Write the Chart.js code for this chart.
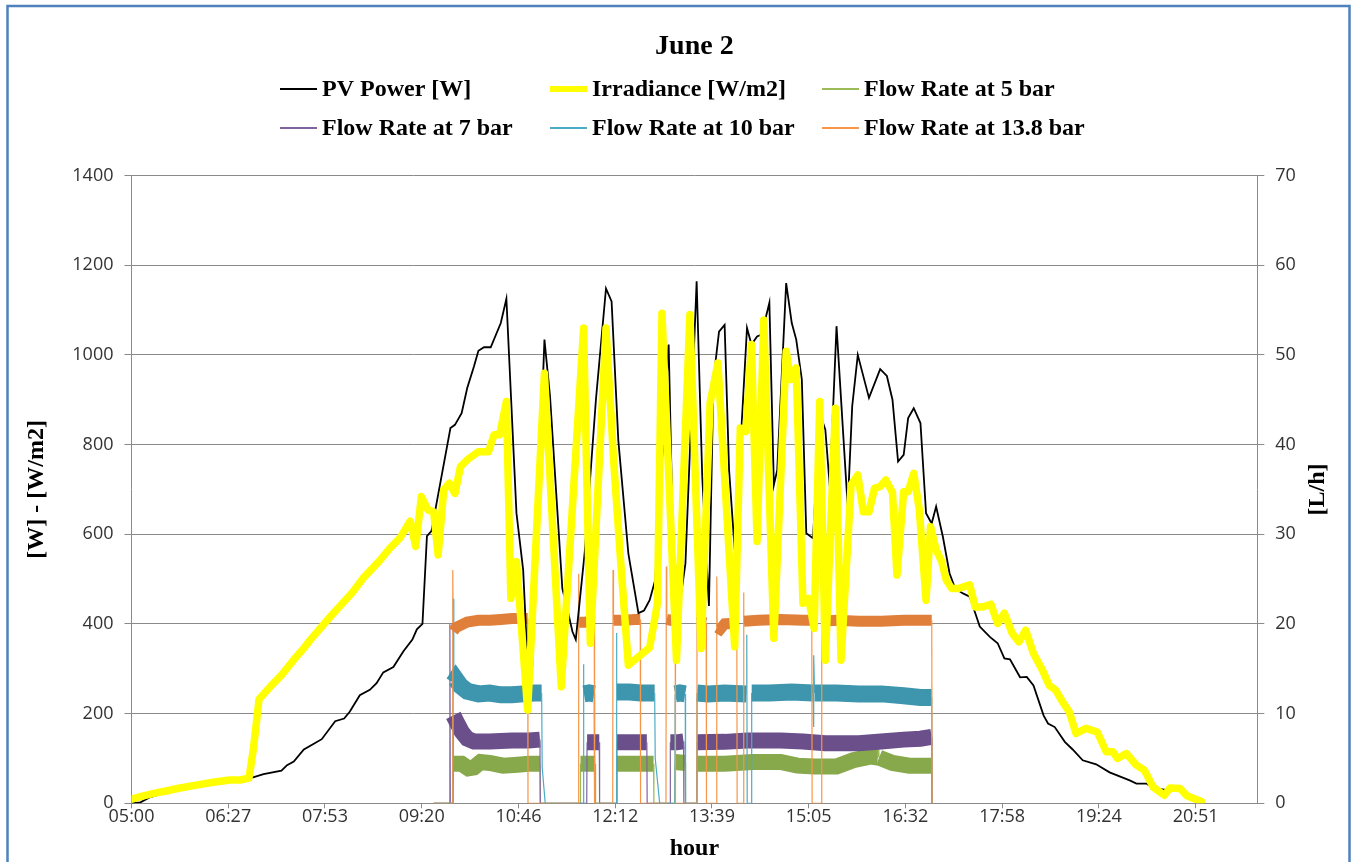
<!DOCTYPE html>
<html>
<head>
<meta charset="utf-8">
<title>June 2</title>
<script src="https://cdn.jsdelivr.net/npm/chart.js@4.4.1/dist/chart.umd.min.js"></script>
<style>
  html, body { margin: 0; padding: 0; background: #fff; }
</style>
</head>
<body>
<canvas id="chart" width="1356" height="862"></canvas>
<script>
/* ======================================================================
DATA  (x = minutes after midnight)
====================================================================== */
const tickLabels = ['05:00', '06:27', '07:53', '09:20', '10:46', '12:12',
  '13:39', '15:05', '16:32', '17:58', '19:24', '20:51'];

// PV power [W]
const pvTime = [300, 308, 317, 330, 345, 360, 375, 390, 405, 418, 434, 439, 445, 454, 461,
  470, 482, 490, 495, 504, 513, 519, 525, 534, 543, 551, 555, 560, 564, 568, 585, 589, 595,
  600, 606, 610, 615, 621, 630, 635, 644, 650, 654, 658, 669, 674, 685, 689, 694, 697, 705,
  715, 724, 729, 735, 744, 753, 758, 763, 768, 780, 784, 790, 795, 805, 810, 816, 820, 825,
  830, 834, 839, 850, 854, 859, 863, 870, 874, 877, 885, 890, 894, 899, 903, 909, 915, 920,
  924, 930, 940, 944, 949, 959, 969, 975, 980, 985, 990, 994, 999, 1005, 1010, 1015, 1019,
  1025, 1031, 1036, 1043, 1049, 1058, 1067, 1074, 1080, 1085, 1094, 1100, 1106, 1115, 1119,
  1125, 1134, 1141, 1150, 1162, 1174, 1192, 1198, 1207, 1213, 1225, 1239, 1248, 1254];
const pvPower = [0, 2, 14, 24, 32, 39, 45, 50, 55, 65, 73, 85, 93, 120, 130,
  143, 183, 189, 204, 241, 253, 268, 292, 304, 339, 365, 388, 400, 596, 607, 837, 844, 870,
  926, 974, 1009, 1017, 1017, 1071, 1125, 647, 520, 308, 301, 1034, 907, 479, 438, 383, 365, 560,
  900, 1148, 1119, 810, 557, 424, 430, 453, 498, 1023, 572, 446, 535, 1164, 729, 440, 944, 1052,
  1067, 743, 565, 1060, 1023, 1041, 1045, 1116, 710, 743, 1160, 1071, 1034, 945, 602, 591, 870, 833,
  706, 1064, 661, 885, 1000, 904, 968, 953, 900, 762, 777, 859, 881, 848, 647, 624, 662,
  595, 513, 479, 468, 461, 394, 371, 357, 323, 321, 281, 282, 263, 196, 178,
  170, 137, 120, 96, 87, 69, 51, 44, 44, 33, 30, 29, 13, 3];

// Irradiance [W/m2]
const irrTime = [300, 308, 320, 332, 341, 359, 373, 388, 397, 405, 409, 414, 424, 434, 445,
  454, 460, 469, 478, 490, 497, 507, 521, 531, 540, 549, 554, 559, 565, 570, 574, 579, 584,
  589, 594, 600, 610, 619, 624, 629, 635, 639, 644, 654, 669, 684, 704, 710, 724, 731, 737,
  744, 763, 770, 774, 787, 799, 809, 817, 824, 839, 844, 849, 854, 859, 865, 874, 885, 889,
  894, 900, 905, 910, 915, 920, 929, 934, 943, 949, 954, 959, 964, 969, 974, 980, 984, 990,
  994, 999, 1004, 1010, 1014, 1019, 1024, 1028, 1033, 1039, 1049, 1054, 1061, 1068, 1074, 1080,
  1087, 1093, 1099, 1106, 1114, 1120, 1126, 1132, 1138, 1144, 1153, 1163, 1171, 1177, 1181,
  1189, 1198, 1205, 1213, 1223, 1228, 1237, 1243, 1248, 1256];
const irradiance = [9, 15, 22, 28, 33, 41, 47, 52, 52, 56, 123, 232, 260, 286, 320,
  346, 365, 391, 417, 450, 469, 502, 539, 569, 592, 629, 573, 684, 654, 650, 554, 699, 714,
  691, 751, 766, 784, 784, 822, 822, 896, 457, 539, 208, 959, 260, 1060, 357, 1060, 758, 543,
  308, 347, 446, 1093, 319, 1090, 345, 892, 982, 349, 837, 829, 1023, 584, 1078, 368, 1008, 945,
  971, 446, 457, 390, 896, 319, 881, 319, 710, 732, 650, 650, 703, 706, 721, 693, 509, 695,
  695, 736, 654, 453, 617, 565, 539, 498, 479, 479, 487, 438, 438, 444, 401, 424,
  379, 360, 386, 334, 297, 263, 252, 226, 204, 156, 167, 159, 115, 115, 100,
  111, 85, 74, 36, 18, 34, 33, 17, 12, 4];

// Flow rates [L/h]
const flow5Time = [570, 587.2, 587.6, 595, 601, 606, 612, 620, 632, 645, 655, 665, 665.3,
  700.9, 701.2, 708, 714.4, 714.7, 733.4, 733.7, 750, 766.5, 766.8, 785.5, 785.8, 794.8, 795.1,
  805.1, 805.4, 830, 855, 880, 895, 910, 930, 945, 960, 967, 967.5, 968, 980, 995, 1015, 1015.3];
const flow5 = [0, 0, 4.4, 4.4, 3.9, 4.0, 4.6, 4.5, 4.2, 4.3, 4.4, 4.4, 0,
  0, 4.4, 4.4, 4.4, 0, 0, 4.4, 4.4, 4.4, 0, 0, 4.6, 4.5, 0,
  0, 4.4, 4.4, 4.6, 4.6, 4.2, 4.1, 4.1, 4.8, 5.2, 5.1, 7.4, 5.1, 4.5, 4.2, 4.2, 0];

const flow7Time = [570, 584.2, 584.5, 584.9, 587.2, 587.6, 590, 595, 600, 606, 620, 640, 655,
  665, 665.3, 706.8, 707.1, 712, 718, 718.3, 733.4, 733.7, 745, 760.5, 760.8, 781.2, 781.5,
  787, 793.3, 793.6, 805.1, 805.4, 830, 850, 880, 900, 920, 950, 970, 990, 1005, 1015, 1015.3];
const flow7 = [0, 0, 20, 0, 0, 9.8, 9.2, 8.0, 7.2, 6.9, 6.9, 7.0, 7.0,
  7.1, 0, 0, 6.8, 6.8, 6.8, 0, 0, 6.8, 6.8, 6.8, 0, 0, 6.8,
  6.8, 6.9, 0, 0, 6.8, 6.85, 7.0, 7.0, 6.9, 6.7, 6.7, 6.9, 7.1, 7.2, 7.4, 0];

const flow10Time = [570, 587.2, 587.5, 588, 590, 594, 600, 610, 620, 630, 640, 650, 660, 666.5,
  667, 669.7, 703.5, 703.8, 704.3, 709, 713.5, 713.8, 733, 733.3, 733.8, 745, 755, 767.5, 768,
  772, 785.5, 785.8, 790, 794.8, 795.1, 805.1, 805.4, 815, 830, 849.5, 849.8, 850.2, 853.8,
  854.2, 870, 890, 909, 909.4, 909.8, 910.4, 930, 950, 970, 990, 1005, 1015.1, 1015.4];
const flow10 = [0, 0, 22.8, 13.4, 13.8, 13.1, 12.5, 12.2, 12.3, 12.1, 12.1, 12.2, 12.3, 12.3,
  4, 0, 0, 15.5, 12.2, 12.3, 12.2, 0, 0, 19, 12.4, 12.4, 12.3, 12.3, 5,
  0, 0, 12.2, 12.3, 12.2, 0, 0, 12.3, 12.2, 12.3, 12.2, 18.8, 0, 0,
  12.3, 12.3, 12.4, 12.3, 8.5, 16.5, 12.3, 12.3, 12.2, 12.2, 12.0, 11.8, 11.8, 0];

const flow138Time = [570, 586.8, 587.1, 587.5, 590, 595, 600, 610, 620, 630, 640, 650, 654,
  654.3, 699.3, 699.6, 700, 705, 710, 713.5, 713.8, 730, 730.3, 730.7, 740, 750, 754.6, 754.9,
  777.6, 777.9, 778.3, 782, 785.8, 786.1, 805, 805.3, 805.7, 809, 813.5, 813.8, 822.7, 823,
  823.4, 826, 830, 840.9, 841.2, 846.6, 846.9, 847.3, 860, 880, 900, 907.9, 908.2, 916.5,
  916.8, 930, 950, 970, 990, 1010, 1015.1, 1015.4];
const flow138 = [0, 0, 26, 19.2, 19.6, 19.9, 20.2, 20.4, 20.4, 20.5, 20.6, 20.6, 20.6,
  0, 0, 25.6, 20.2, 20.2, 20.3, 20.2, 0, 0, 26, 20.4, 20.4, 20.5, 20.5, 0,
  0, 26.4, 20.5, 20.4, 20.5, 0, 0, 25.6, 20.1, 20.2, 20.1, 0, 0, 25.3,
  19.6, 19.4, 20.0, 20.1, 0, 0, 23.5, 20.3, 20.4, 20.5, 20.4, 20.4, 0, 0,
  20.3, 20.4, 20.3, 20.3, 20.4, 20.4, 20.4, 0];

/* ======================================================================
Helpers
====================================================================== */
const serif = '"Liberation Serif", "Times New Roman", serif';
const gridColor = '#8a8a8a';
const tickStep = 86.45;

function points(xs, ys) {
  return xs.map((x, i) => ({ x: x, y: ys[i] }));
}

// dense noisy flow readings show as a solid band; jumps stay hairlines
function isBand(ctx) {
  const a = ctx.p0.parsed.y;
  const b = ctx.p1.parsed.y;
  return a > 2 && b > 2 && Math.abs(a - b) < 2;
}
function bandWidth(width) {
  return ctx => isBand(ctx) ? width : 1.2;
}
function bandColor(color) {
  return ctx => isBand(ctx) ? color : undefined;
}

function flowSet(label, xs, ys, line, band, width, order) {
  return {
    label: label,
    data: points(xs, ys),
    yAxisID: 'y1',
    borderColor: line,
    borderWidth: 1.2,
    pointRadius: 0,
    tension: 0,
    order: order,
    legendWidth: 2,
    segment: { borderWidth: bandWidth(width), borderColor: bandColor(band) }
  };
}

/* ======================================================================
Plugins
====================================================================== */
const frame = {
  id: 'frame',
  beforeDraw(chart) {
    const ctx = chart.ctx;
    ctx.save();
    ctx.fillStyle = '#fff';
    ctx.fillRect(0, 0, chart.width, chart.height);
    ctx.strokeStyle = '#4f81bd';
    ctx.lineWidth = 2.5;
    ctx.strokeRect(7.5, 6, 1342, chart.height + 20);
    ctx.restore();
  },
  afterDraw(chart) {
    const ctx = chart.ctx;
    const area = chart.chartArea;
    const midX = (area.left + area.right) / 2;
    const midY = (area.top + area.bottom) / 2;
    const cols = [280, 550, 822];
    const rows = [89, 128];
    ctx.save();
    ctx.fillStyle = '#000';
    ctx.textBaseline = 'middle';

    // title, centred over the plot area
    ctx.font = 'bold 28px ' + serif;
    ctx.textAlign = 'center';
    ctx.fillText('June 2', midX, 47);

    // legend in three fixed columns
    ctx.font = 'bold 24px ' + serif;
    ctx.textAlign = 'left';
    chart.data.datasets.forEach((ds, i) => {
      const x = cols[i % 3];
      const y = rows[Math.floor(i / 3)];
      ctx.strokeStyle = ds.borderColor;
      ctx.lineWidth = ds.legendWidth;
      ctx.lineCap = 'butt';
      ctx.beginPath();
      ctx.moveTo(x, y);
      ctx.lineTo(x + 37, y);
      ctx.stroke();
      ctx.fillText(ds.label, x + 42, y + 1);
    });

    // secondary axis title, reading bottom to top like the primary one
    ctx.translate(1318, midY);
    ctx.rotate(-Math.PI / 2);
    ctx.textAlign = 'center';
    ctx.fillText('[L/h]', 0, 0);
    ctx.restore();
  }
};

/* ======================================================================
Chart
====================================================================== */
Chart.defaults.font.family = '"Open Sans", sans-serif';
Chart.defaults.font.size = 18;
Chart.defaults.color = '#333';

const axisTitleFont = { family: serif, size: 24, weight: 'bold' };

const chartCanvas = document.getElementById('chart');
const powerChart = new Chart(chartCanvas, {
  type: 'line',
  data: {
    datasets: [
      {
        label: 'PV Power [W]',
        data: points(pvTime, pvPower),
        yAxisID: 'y',
        borderColor: '#000',
        borderWidth: 1.8,
        pointRadius: 0,
        tension: 0,
        order: 1,
        legendWidth: 2
      },
      {
        label: 'Irradiance [W/m2]',
        data: points(irrTime, irradiance),
        yAxisID: 'y',
        borderColor: '#ffff00',
        borderWidth: 7.5,
        borderJoinStyle: 'round',
        borderCapStyle: 'round',
        pointRadius: 0,
        tension: 0,
        order: 0,
        legendWidth: 6
      },
      flowSet('Flow Rate at 5 bar', flow5Time, flow5, '#9bbb59', '#88a84c', 16, 5),
      flowSet('Flow Rate at 7 bar', flow7Time, flow7, '#8064a2', '#6a4f8a', 16, 4),
      flowSet('Flow Rate at 10 bar', flow10Time, flow10, '#4bacc6', '#3e95ae', 17, 3),
      flowSet('Flow Rate at 13.8 bar', flow138Time, flow138, '#f79646', '#e07f3a', 11, 2)
    ]
  },
  options: {
    responsive: false,
    animation: false,
    events: [],
    layout: { padding: { top: 175.5, left: 0, right: 0, bottom: 0 } },
    plugins: {
      legend: { display: false },
      tooltip: { enabled: false },
      title: { display: false }
    },
    scales: {
      x: {
        type: 'linear',
        min: 300,
        max: 1306,
        afterBuildTicks: axis => {
          axis.ticks = tickLabels.map((_, i) => ({ value: 300 + i * tickStep }));
        },
        afterFit: axis => { axis.height = 58.7; },
        ticks: {
          autoSkip: false,
          maxRotation: 0,
          padding: -2,
          callback: (value, index) => tickLabels[index]
        },
        grid: { drawOnChartArea: false, tickLength: 5, color: gridColor },
        border: { color: gridColor },
        title: {
          display: true,
          text: 'hour',
          color: '#000',
          font: axisTitleFont,
          padding: { top: 0, bottom: -1.5 }
        }
      },
      y: {
        position: 'left',
        min: 0,
        max: 1400,
        afterFit: axis => { axis.width = 131.5; },
        ticks: { stepSize: 200, padding: 11, callback: value => String(value) },
        grid: { color: gridColor, tickLength: 7 },
        border: { color: gridColor },
        title: {
          display: true,
          text: '[W] - [W/m2]',
          color: '#000',
          font: axisTitleFont,
          padding: { top: 22.6, bottom: 0 }
        }
      },
      y1: {
        position: 'right',
        min: 0,
        max: 70,
        afterFit: axis => { axis.width = 98.7; },
        ticks: { stepSize: 10, padding: 11, callback: value => String(value) },
        grid: { drawOnChartArea: false, color: gridColor, tickLength: 7 },
        border: { color: gridColor }
      }
    }
  },
  plugins: [frame]
});
</script>
</body>
</html>
